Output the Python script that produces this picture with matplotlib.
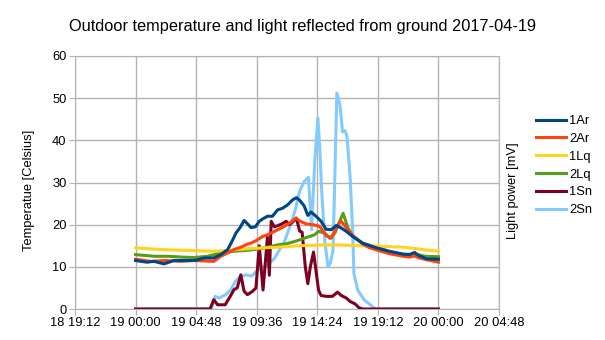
import numpy as np
import pandas as pd
import matplotlib
matplotlib.use("Agg")
import matplotlib.pyplot as plt
import matplotlib.dates as mdates

plt.rcParams['font.family'] = ['Liberation Sans', 'DejaVu Sans']

# hours since 2017-04-19 00:00
t_1ar = [0, 0.9, 1.45, 2.25, 3.05, 3.85, 4.65, 5.45, 6.2, 6.75, 7.3, 7.7, 7.95, 8.3, 8.6, 8.87, 9.15,
         9.5, 9.8, 10.1, 10.45, 10.85, 11.25, 11.65, 12.05, 12.45, 12.75, 13.0, 13.35, 13.65, 13.9,
         14.3, 14.7, 15.1, 15.5, 15.9, 16.3, 16.7, 17.2, 18.0, 19.1, 20.1, 21.2, 21.7, 22.1, 22.5,
         23.05, 24.0]
v_1ar = [11.5, 11.1, 11.3, 10.7, 11.5, 11.5, 11.5, 12.1, 12.1, 12.9, 14.1, 16.4, 18.0, 19.4, 21.0,
         20.2, 19.3, 19.5, 20.8, 21.4, 22.0, 22.0, 23.5, 23.9, 24.7, 25.9, 26.4, 25.8, 24.5, 22.2,
         23.0, 22.0, 20.8, 18.9, 18.8, 19.8, 19.2, 18.4, 17.2, 15.6, 14.5, 13.7, 13.0, 12.9, 13.4,
         12.6, 11.9, 11.8]

t_2ar = [0, 1.2, 2.4, 3.6, 4.6, 5.4, 6.2, 6.75, 7.3, 7.8, 8.3, 8.87, 9.14, 9.6, 10.07, 10.46, 11.0,
         11.4, 11.8, 12.3, 12.72, 12.98, 13.5, 14.04, 14.58, 15.1, 15.5, 16.04, 16.3, 16.7, 17.2,
         18.0, 18.55, 19.1, 20.14, 21.2, 21.7, 22.1, 22.5, 23.05, 24.0]
v_2ar = [11.8, 11.3, 11.5, 11.3, 11.5, 11.4, 11.3, 12.5, 13.3, 14.1, 14.6, 15.4, 15.6, 16.3, 17.2,
         17.6, 18.4, 19.0, 19.6, 20.6, 21.6, 20.9, 20.2, 20.0, 19.6, 17.4, 16.8, 20.0, 20.8, 19.3,
         17.4, 15.4, 14.5, 14.0, 13.1, 12.5, 12.3, 12.6, 12.1, 11.7, 11.1]

t_1lq = list(range(25))
v_1lq = [14.5, 14.3, 14.1, 14.0, 13.9, 13.8, 13.7, 13.8, 14.1, 14.3, 14.5, 14.6, 14.8, 15.0, 15.1,
         15.2, 15.2, 15.1, 15.0, 14.9, 14.8, 14.7, 14.4, 14.0, 13.7]

t_2lq = [0, 1.5, 2.6, 3.7, 4.6, 5.7, 6.75, 7.8, 8.8, 9.67, 10.5, 11.26, 12.0, 12.6, 13.0, 13.38, 13.8,
         14.18, 14.5, 15.0, 15.4, 15.8, 16.0, 16.45, 16.83, 17.2, 18.0, 19.1, 20.1, 21.2, 22.3, 23.0,
         24.0]
v_2lq = [12.9, 12.5, 12.5, 12.3, 12.2, 12.5, 13.3, 13.7, 13.9, 14.2, 14.7, 15.2, 15.5, 16.0, 16.4,
         16.8, 17.2, 17.6, 18.4, 18.0, 16.8, 18.0, 19.6, 22.7, 19.2, 17.4, 15.6, 14.6, 13.6, 13.0,
         12.9, 12.5, 12.4]

t_1sn = [0, 5.9, 6.2, 6.5, 7.1, 7.5, 7.8, 8.05, 8.34, 8.6, 8.87, 9.27, 9.54, 9.8, 10.1, 10.45, 10.6,
         10.75, 11.0, 11.3, 11.6, 11.93, 12.2, 12.5, 12.75, 13.0, 13.2, 13.45, 13.65, 13.85, 14.1,
         14.3, 14.5, 14.7, 15.1, 15.6, 16.0, 16.3, 16.7, 17.0, 17.4, 17.7, 18.0, 24.0]
v_1sn = [0, 0, 2.2, 1.0, 1.0, 3.0, 4.6, 5.0, 8.1, 4.2, 3.4, 4.2, 5.0, 15.0, 4.5, 17.0, 8.0, 20.8,
         19.5, 19.8, 20.2, 20.8, 20.0, 20.8, 21.5, 18.5, 18.2, 10.0, 6.0, 10.0, 13.5, 9.0, 4.5, 3.2,
         3.0, 3.0, 4.0, 3.2, 2.6, 1.8, 1.2, 0.3, 0, 0]

t_2sn = [0, 6.0, 6.3, 6.6, 7.15, 7.55, 7.9, 8.3, 8.75, 9.2, 9.6, 10.1, 10.5, 11.0, 11.5, 11.8, 12.1,
         12.4, 12.7, 13.0, 13.38, 13.7, 13.85, 13.95, 14.2, 14.45, 14.6, 14.75, 15.0, 15.25, 15.45,
         15.65, 15.95, 16.2, 16.4, 16.6, 16.75, 17.0, 17.2, 17.3, 17.6, 18.1, 18.6, 19.0, 24.0]
v_2sn = [0, 0, 3.0, 2.6, 3.4, 4.6, 6.5, 7.7, 8.1, 7.8, 9.0, 10.0, 10.5, 12.0, 14.5, 16.0, 18.5,
         21.0, 24.0, 28.0, 30.3, 31.2, 24.0, 18.8, 35.0, 45.3, 38.0, 28.0, 16.0, 10.0, 11.0, 14.0,
         51.2, 48.4, 42.0, 42.3, 41.0, 31.4, 18.8, 8.5, 4.5, 2.2, 1.0, 0, 0]

labels = ['1Ar', '2Ar', '1Lq', '2Lq', '1Sn', '2Sn']
colors = ['#004586', '#ff420e', '#ffd320', '#579d1c', '#7e0021', '#83caff']
series = [(t_1ar, v_1ar), (t_2ar, v_2ar), (t_1lq, v_1lq), (t_2lq, v_2lq), (t_1sn, v_1sn), (t_2sn, v_2sn)]

base = pd.Timestamp('2017-04-19 00:00')

fig = plt.figure(figsize=(6.05, 3.4), dpi=100)
ax = fig.add_axes([75 / 605, 1 - 309 / 340, 424 / 605, 253 / 340])

for i, ((t, v), lab, c) in enumerate(zip(series, labels, colors)):
    times = base + pd.to_timedelta(np.array(t), unit='h')
    ax.plot(times, v, color=c, lw=2.2, label=lab, zorder=10 - i)

ticks = [base + pd.Timedelta(minutes=m) for m in range(-288, 1729, 288)]
ax.set_xticks(ticks)
ax.xaxis.set_major_formatter(mdates.DateFormatter('%d %H:%M'))
ax.set_xlim(ticks[0], ticks[-1])
ax.set_ylim(0, 60)
ax.set_yticks(range(0, 61, 10))

ax.grid(True, color='#b3b3b3', lw=1)
ax.set_axisbelow(True)
for s in ax.spines.values():
    s.set_color('#b3b3b3')
ax.tick_params(colors='#b3b3b3', labelcolor='black', length=4, labelsize=9.3, pad=2)

fig.text(0.5, 1 - 27 / 340, 'Outdoor temperature and light reflected from ground 2017-04-19',
         ha='center', va='center', fontsize=11.8)
fig.text(29 / 605, 1 - 190 / 340, 'Temperatue [Celsius]', rotation=90, ha='center', va='center',
         fontsize=9.3)
fig.text(513 / 605, 1 - 191 / 340, 'Light power [mV]', rotation=90, ha='center', va='center',
         fontsize=9.3)

ax.legend(loc='upper left', bbox_to_anchor=(536 / 605, 1 - 115 / 340), bbox_transform=fig.transFigure,
          frameon=False, fontsize=9.3, borderpad=0, handlelength=2.3, handletextpad=0.25,
          labelspacing=0.45, borderaxespad=0)

fig.savefig('out.png', dpi=100)
